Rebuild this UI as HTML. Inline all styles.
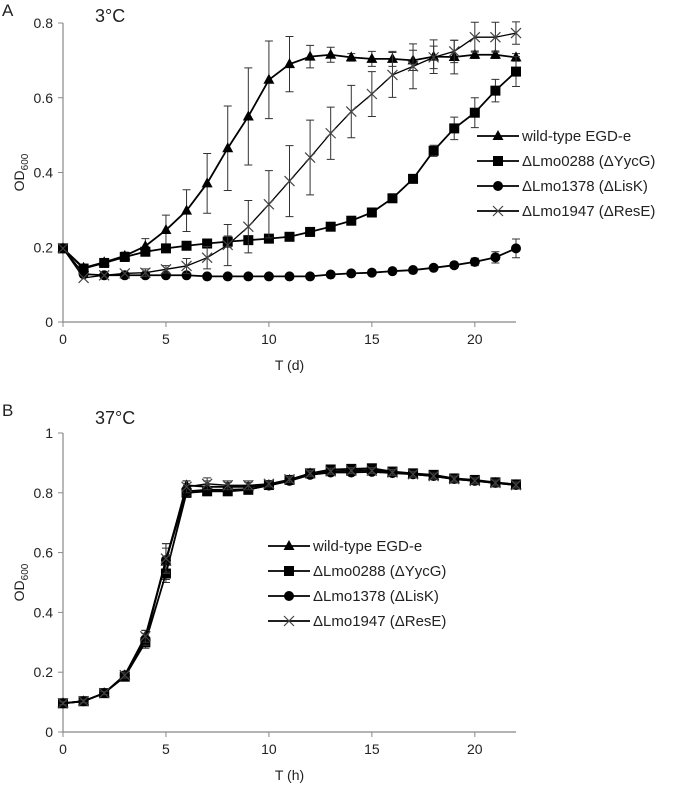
<!DOCTYPE html>
<html><head><meta charset="utf-8"><style>
body{margin:0;background:#fff;}
svg{display:block;font-family:"Liberation Sans",sans-serif;}
</style></head><body>
<svg id="fig" width="680" height="790" viewBox="0 0 680 790">
<text x="2" y="16" font-size="17" fill="#222">A</text>
<text x="95" y="22" font-size="18" fill="#222">3°C</text>
<text x="2" y="416" font-size="17" fill="#222">B</text>
<text x="95" y="424" font-size="18" fill="#222">37°C</text>
<g id="pa"></g>
<g id="pb"></g>
</svg>
<script>
const days = [0,1,2,3,4,5,6,7,8,9,10,11,12,13,14,15,16,17,18,19,20,21,22];
const legendLabels = ["wild-type EGD-e","ΔLmo0288 (ΔYycG)","ΔLmo1378 (ΔLisK)","ΔLmo1947 (ΔResE)"];
const markers = ["tri","sq","circ","x"];
// Panel A (3°C)
const aWT   = [0.197,0.145,0.16,0.177,0.203,0.246,0.298,0.371,0.465,0.55,0.648,0.69,0.71,0.715,0.708,0.704,0.704,0.70,0.71,0.709,0.715,0.715,0.708];
const aWTe  = [0,0,0,0.01,0.02,0.04,0.056,0.08,0.113,0.13,0.104,0.074,0.03,0.02,0.01,0.02,0.02,0.027,0.045,0.045,0.01,0.01,0.01];
const aYycG = [0.197,0.143,0.158,0.174,0.188,0.197,0.204,0.21,0.215,0.219,0.223,0.228,0.241,0.255,0.271,0.293,0.331,0.383,0.458,0.518,0.56,0.619,0.67];
const aYycGe= [0,0,0,0,0,0,0,0,0.015,0,0,0,0,0,0,0,0,0,0.015,0.03,0.04,0.03,0.04];
const aLisK = [0.197,0.128,0.125,0.125,0.125,0.125,0.125,0.122,0.122,0.122,0.122,0.122,0.122,0.127,0.13,0.132,0.136,0.139,0.145,0.152,0.161,0.173,0.197];
const aLisKe= [0,0,0,0,0,0,0,0,0,0,0,0,0,0,0,0,0,0,0,0,0.01,0.015,0.025];
const aResE = [0.197,0.118,0.125,0.13,0.132,0.141,0.15,0.172,0.206,0.255,0.315,0.377,0.44,0.505,0.563,0.61,0.661,0.684,0.708,0.724,0.762,0.762,0.773];
const aResEe= [0,0,0,0,0.01,0.01,0.02,0.03,0.055,0.07,0.09,0.095,0.1,0.07,0.07,0.06,0.06,0.06,0.03,0.03,0.04,0.04,0.03];
const aTicksY = ["0","0.2","0.4","0.6","0.8"];
// Panel B (37°C)
const bWT   = [0.096,0.103,0.13,0.19,0.32,0.57,0.825,0.82,0.82,0.82,0.826,0.843,0.865,0.872,0.874,0.876,0.868,0.862,0.856,0.846,0.84,0.833,0.826];
const bWTe  = [0.005,0.005,0.005,0.01,0.02,0.06,0.015,0.02,0.015,0.015,0.01,0.01,0.01,0.01,0.01,0.01,0.01,0.01,0.01,0.01,0.01,0.01,0.01];
const bYycG = [0.096,0.103,0.13,0.185,0.30,0.53,0.80,0.805,0.805,0.81,0.826,0.843,0.865,0.878,0.88,0.882,0.871,0.865,0.86,0.848,0.843,0.835,0.828];
const bYycGe= [0.005,0.005,0.005,0.01,0.02,0.03,0.015,0.01,0.01,0.01,0.01,0.01,0.01,0.01,0.01,0.01,0.01,0.01,0.01,0.01,0.01,0.01,0.01];
const bLisK = [0.096,0.103,0.13,0.19,0.31,0.575,0.805,0.81,0.81,0.812,0.824,0.84,0.86,0.868,0.868,0.87,0.866,0.862,0.856,0.846,0.84,0.833,0.826];
const bLisKe= [0.005,0.005,0.005,0.01,0.02,0.04,0.015,0.01,0.01,0.01,0.01,0.01,0.01,0.01,0.01,0.01,0.01,0.01,0.01,0.01,0.01,0.01,0.01];
const bResE = [0.096,0.103,0.13,0.19,0.32,0.58,0.82,0.83,0.825,0.825,0.83,0.845,0.865,0.872,0.874,0.874,0.868,0.862,0.856,0.846,0.84,0.833,0.826];
const bResEe= [0.005,0.005,0.005,0.01,0.02,0.05,0.02,0.02,0.015,0.015,0.01,0.01,0.01,0.01,0.01,0.01,0.01,0.01,0.01,0.01,0.01,0.01,0.01];
const bTicksY = ["0","0.2","0.4","0.6","0.8","1"];
const xTicks = [0,5,10,15,20];

const NS="http://www.w3.org/2000/svg";
function mk(parent,tag,attrs){const e=document.createElementNS(NS,tag);for(const k in attrs)e.setAttribute(k,attrs[k]);parent.appendChild(e);return e;}

function panel(g,cfg){
  const X0=63,X1=516,xmax=22;
  const sx=v=>X0+(X1-X0)*v/xmax;
  const sy=v=>cfg.yb-(cfg.yb-cfg.yt)*v/cfg.ymax;
  const ax=mk(g,'path',{d:`M${X0},${cfg.yt} V${cfg.yb} H${X1}`,stroke:'#888',fill:'none','stroke-width':1.2});
  
  
  cfg.ticksY.forEach((t,i)=>{
    const v=i*cfg.ymax/(cfg.ticksY.length-1);
    mk(g,'line',{x1:X0-5,x2:X0,y1:sy(v),y2:sy(v),stroke:'#888'});
    const tx=mk(g,'text',{x:X0-10,y:sy(v)+5,'font-size':14,'text-anchor':'end',fill:'#222'});
    tx.textContent=t;
    
    
  });
  xTicks.forEach(t=>{
    mk(g,'line',{x1:sx(t),x2:sx(t),y1:cfg.yb,y2:cfg.yb+5,stroke:'#888'});
    const tx=mk(g,'text',{x:sx(t),y:cfg.yb+22,'font-size':14,'text-anchor':'middle',fill:'#222'});
    tx.textContent=t;
    
    
  });
  const xl=mk(g,'text',{x:sx(11),y:cfg.yb+48,'font-size':14,'text-anchor':'middle',fill:'#222'});
  xl.textContent=cfg.xlabel;
  
  
  const yl=mk(g,'text',{transform:`translate(24,${(cfg.yt+cfg.yb)/2}) rotate(-90)`,'font-size':14,'text-anchor':'middle',fill:'#222'});
  yl.innerHTML='OD<tspan font-size="10" dy="4">600</tspan>';
  
  
  cfg.series.forEach((s,si)=>{
    const sg=mk(g,'g',{});
    
    
    s.e.forEach((e,i)=>{ if(e<=0)return;
      const x=sx(days[i]),y1=sy(s.v[i]+e),y2=sy(s.v[i]-e);
      mk(sg,'path',{d:`M${x},${y1}V${y2}M${x-4},${y1}H${x+4}M${x-4},${y2}H${x+4}`,stroke:'#333','stroke-width':1,fill:'none'});
    });
    mk(sg,'polyline',{points:s.v.map((v,i)=>sx(days[i])+','+sy(v)).join(' '),fill:'none',stroke:'#000','stroke-width':si==3?1.3:1.8});
    s.v.forEach((v,i)=>drawMarker(sg,markers[si],sx(days[i]),sy(v)));
  });
  cfg.legend.forEach((lab,i)=>{
    const y=cfg.ly+i*25;
    const lg=mk(g,'g',{});
    
    
    mk(lg,'line',{x1:cfg.lx,x2:cfg.lx+42,y1:y,y2:y,stroke:'#000','stroke-width':1.8});
    drawMarker(lg,markers[i],cfg.lx+21,y);
    const t=mk(lg,'text',{x:cfg.lx+45,y:y+5,'font-size':15,fill:'#222'});
    t.textContent=lab;
  });
}
function drawMarker(g,m,x,y){
  if(m==='tri')mk(g,'path',{d:`M${x},${y-6}L${x+5.5},${y+4}L${x-5.5},${y+4}Z`,fill:'#000'});
  else if(m==='sq')mk(g,'rect',{x:x-5,y:y-5,width:10,height:10,fill:'#000'});
  else if(m==='circ')mk(g,'circle',{cx:x,cy:y,r:5,fill:'#000'});
  else mk(g,'path',{d:`M${x-5},${y-5}L${x+5},${y+5}M${x-5},${y+5}L${x+5},${y-5}`,stroke:'#444','stroke-width':1.2});
}
panel(document.getElementById('pa'),{yt:23,yb:322,ymax:0.8,ticksY:aTicksY,xlabel:'T (d)',lx:477,ly:136,legend:legendLabels,
  series:[{v:aWT,e:aWTe},{v:aYycG,e:aYycGe},{v:aLisK,e:aLisKe},{v:aResE,e:aResEe}]});
panel(document.getElementById('pb'),{yt:433,yb:732,ymax:1,ticksY:bTicksY,xlabel:'T (h)',lx:268,ly:546,legend:legendLabels,
  series:[{v:bWT,e:bWTe},{v:bYycG,e:bYycGe},{v:bLisK,e:bLisKe},{v:bResE,e:bResEe}]});
</script>
</body></html>
